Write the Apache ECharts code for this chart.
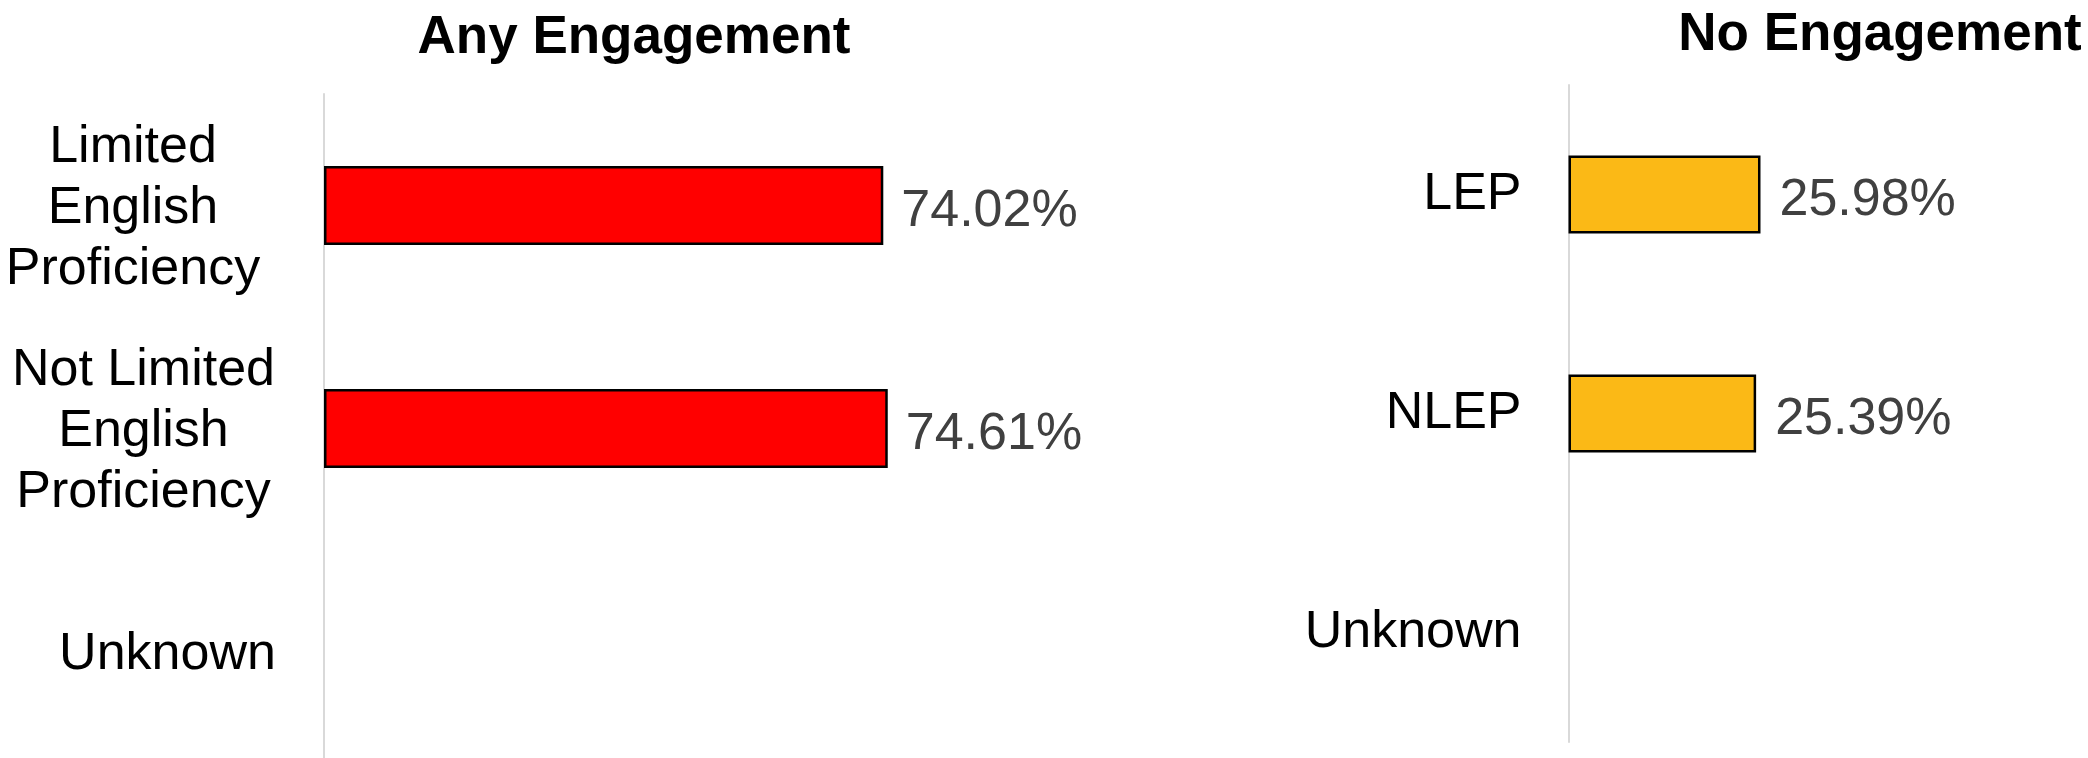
<!DOCTYPE html>
<html>
<head>
<meta charset="utf-8">
<style>
  html, body { margin: 0; padding: 0; background: #ffffff; }
  #chart { width: 2088px; height: 758px; }
</style>
<script src="https://cdn.jsdelivr.net/npm/echarts@6/dist/echarts.min.js"></script>
</head>
<body>
<div id="chart"></div>
<script>
// Engagement by English proficiency status (percent of group)
const panelTitles = ['Any Engagement', 'No Engagement'];
const anyCategories = [
  ['Limited', 'English', 'Proficiency'],
  ['Not Limited', 'English', 'Proficiency'],
  ['Unknown']
];
const noCategories = ['LEP', 'NLEP', 'Unknown'];
const anyValues = [74.02, 74.61, null];
const noValues = [25.98, 25.39, null];

const FONT = '"Liberation Sans", Arial, sans-serif';
const AXIS_GRAY = '#d9d9d9';

// Left-panel labels: each line centred inside a block whose width varies per category
const blockWidths = [288, 267, 219];
const richStyles = {};
blockWidths.forEach((w, i) => {
  richStyles['b' + i] = {
    width: w, align: 'center', fontSize: 52, lineHeight: 61,
    color: '#000000', fontFamily: FONT
  };
});
const anyLabelText = anyCategories.map(lines => lines.join('\n'));

const chart = echarts.init(document.getElementById('chart'), null, { renderer: 'canvas' });

const valueLabel = (dist) => ({
  show: true,
  position: 'right',
  distance: dist,
  offset: [0, 6],
  color: '#404040',
  fontSize: 52,
  fontFamily: FONT,
  formatter: p => (p.value == null ? '' : Number(p.value).toFixed(2) + '%')
});

chart.setOption({
  animation: false,
  backgroundColor: '#ffffff',
  title: [
    {
      text: panelTitles[0], left: 629, top: 7, textAlign: 'center',
      textStyle: { fontSize: 53, fontWeight: 'bold', color: '#000000', fontFamily: FONT }
    },
    {
      text: panelTitles[1], left: 1875, top: 4, textAlign: 'center',
      textStyle: { fontSize: 53, fontWeight: 'bold', color: '#000000', fontFamily: FONT }
    }
  ],
  grid: [
    { left: 324, top: 94, width: 755.6, height: 669, containLabel: false, outerBoundsMode: 'none' },
    { left: 1568.5, top: 85, width: 739, height: 657, containLabel: false, outerBoundsMode: 'none' }
  ],
  xAxis: [
    { type: 'value', gridIndex: 0, min: 0, max: 100, show: false },
    { type: 'value', gridIndex: 1, min: 0, max: 100, show: false }
  ],
  yAxis: [
    {
      type: 'category', gridIndex: 0, inverse: true,
      data: anyLabelText,
      axisLine: { show: true, lineStyle: { color: AXIS_GRAY, width: 2 } },
      axisTick: { show: false },
      splitLine: { show: false },
      axisLabel: {
        margin: 47, align: 'right', fontSize: 52, lineHeight: 61,
        padding: [7, 0, 0, 0],
        color: '#000000', fontFamily: FONT,
        formatter: (val, idx) => val.split('\n').map(s => '{b' + idx + '|' + s + '}').join('\n'),
        rich: richStyles
      }
    },
    {
      type: 'category', gridIndex: 1, inverse: true,
      data: noCategories,
      axisLine: { show: true, lineStyle: { color: AXIS_GRAY, width: 2 } },
      axisTick: { show: false },
      splitLine: { show: false },
      axisLabel: {
        margin: 47, align: 'right', fontSize: 52, padding: [10, 0, 0, 0],
        color: '#000000', fontFamily: FONT
      }
    }
  ],
  series: [
    {
      type: 'bar', xAxisIndex: 0, yAxisIndex: 0,
      data: anyValues,
      barWidth: 79,
      itemStyle: { color: '#ff0000', borderColor: '#000000', borderWidth: 2.5 },
      label: valueLabel(18)
    },
    {
      type: 'bar', xAxisIndex: 1, yAxisIndex: 1,
      data: noValues,
      barWidth: 78,
      itemStyle: { color: '#fbb916', borderColor: '#000000', borderWidth: 2.5 },
      label: valueLabel(19)
    }
  ]
});
</script>
</body>
</html>
